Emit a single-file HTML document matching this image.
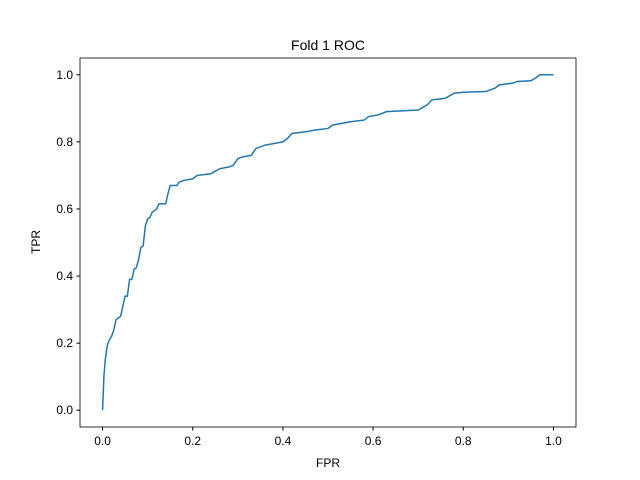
<!DOCTYPE html>
<html><head><meta charset="utf-8"><style>
body{margin:0;background:#fff;}
svg{display:block;font-family:"Liberation Sans","DejaVu Sans",sans-serif;}
</style></head><body>
<svg id="chart" width="640" height="480">
<rect width="640" height="480" fill="#fff"/>
<text x="328" y="50" font-size="14" text-anchor="middle">Fold 1 ROC</text>
<text x="328" y="467" font-size="12" text-anchor="middle">FPR</text>
<text x="40" y="242" font-size="12" text-anchor="middle" transform="rotate(-90 40 242)">TPR</text>
<g id="ticks"></g>
<path id="roc" fill="none" stroke="#1f77b4" stroke-width="1.5"/>
<rect x="80" y="58" width="496" height="369" fill="none" stroke="#000" stroke-width="0.8"/>
</svg>
<script>
const fpr=[0,0.003,0.006,0.01,0.015,0.02,0.025,0.03,0.035,0.04,0.045,0.05,0.055,0.06,0.065,0.07,0.075,0.08,0.085,0.09,0.095,0.1,0.105,0.11,0.12,0.125,0.14,0.145,0.15,0.165,0.17,0.18,0.2,0.21,0.24,0.26,0.28,0.29,0.3,0.31,0.33,0.34,0.36,0.38,0.4,0.41,0.42,0.45,0.47,0.5,0.51,0.55,0.58,0.59,0.61,0.63,0.7,0.72,0.73,0.76,0.78,0.8,0.85,0.87,0.88,0.91,0.92,0.95,0.96,0.97,1];
const tpr=[0,0.1,0.15,0.19,0.21,0.22,0.24,0.27,0.275,0.28,0.31,0.34,0.34,0.39,0.39,0.42,0.425,0.45,0.485,0.49,0.55,0.57,0.575,0.59,0.6,0.615,0.615,0.645,0.67,0.67,0.68,0.685,0.69,0.7,0.705,0.72,0.725,0.73,0.75,0.755,0.76,0.78,0.79,0.795,0.8,0.81,0.825,0.83,0.835,0.84,0.85,0.86,0.865,0.875,0.88,0.89,0.895,0.91,0.925,0.93,0.945,0.948,0.95,0.96,0.97,0.975,0.98,0.982,0.99,1,1];
const xTicks=[0,0.2,0.4,0.6,0.8,1.0];
const yTicks=[0,0.2,0.4,0.6,0.8,1.0];
const xs=v=>80+(v+0.05)/1.1*496;
const ys=v=>427-(v+0.05)/1.1*369;
const NS="http://www.w3.org/2000/svg";
const g=document.getElementById('ticks');
xTicks.forEach(t=>{
  const l=document.createElementNS(NS,'line');
  l.setAttribute('x1',xs(t));l.setAttribute('x2',xs(t));l.setAttribute('y1',427);l.setAttribute('y2',430.5);l.setAttribute('stroke','#000');
  
  
  g.appendChild(l);
  const tx=document.createElementNS(NS,'text');
  tx.setAttribute('x',xs(t));tx.setAttribute('y',445);tx.setAttribute('font-size','12');tx.setAttribute('text-anchor','middle');
  tx.textContent=t.toFixed(1);
  
  
  g.appendChild(tx);
});
yTicks.forEach(t=>{
  const l=document.createElementNS(NS,'line');
  l.setAttribute('x1',76.5);l.setAttribute('x2',80);l.setAttribute('y1',ys(t));l.setAttribute('y2',ys(t));l.setAttribute('stroke','#000');
  
  
  g.appendChild(l);
  const tx=document.createElementNS(NS,'text');
  tx.setAttribute('x',73);tx.setAttribute('y',ys(t)+4);tx.setAttribute('font-size','12');tx.setAttribute('text-anchor','end');
  tx.textContent=t.toFixed(1);
  
  
  g.appendChild(tx);
});
document.getElementById('roc').setAttribute('d',fpr.map((v,i)=>(i?'L':'M')+xs(v).toFixed(2)+','+ys(tpr[i]).toFixed(2)).join(' '));
</script>
</body></html>
